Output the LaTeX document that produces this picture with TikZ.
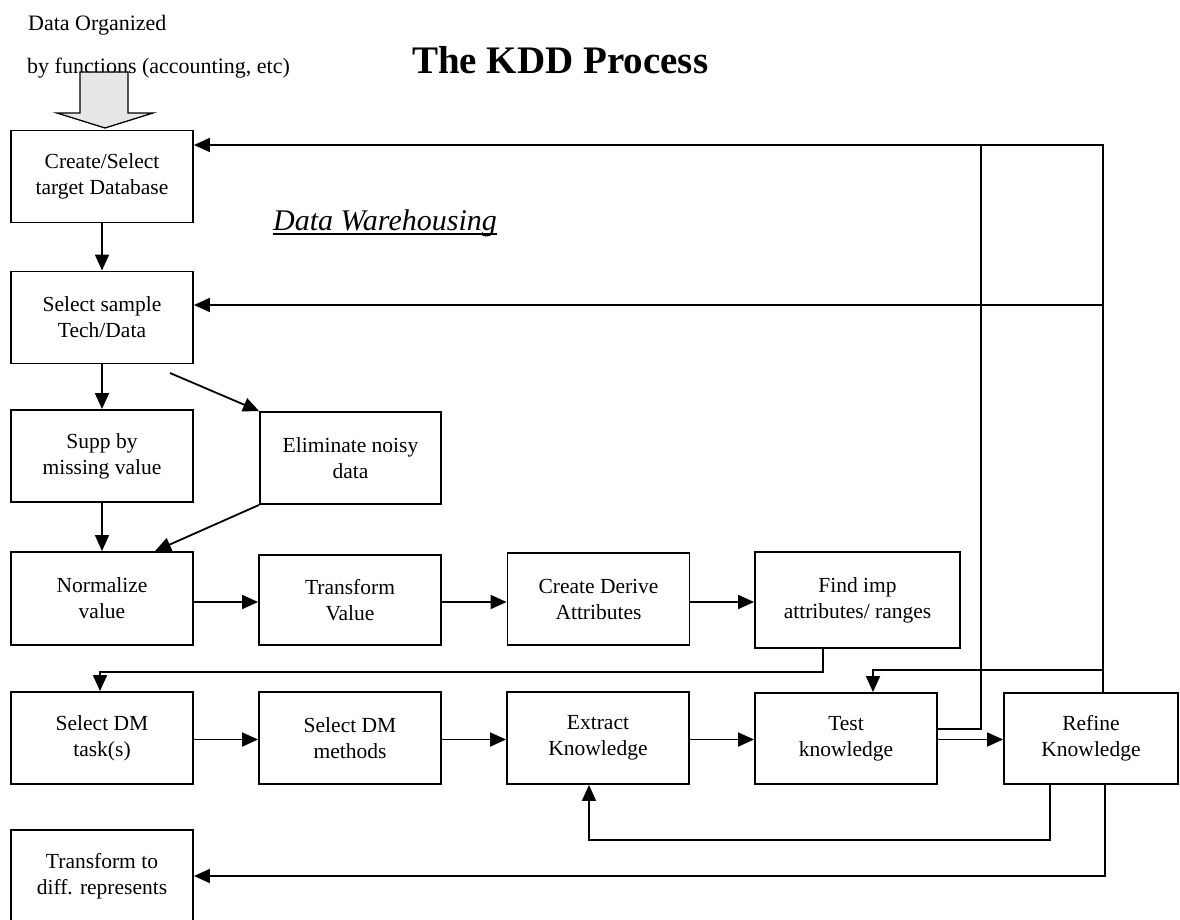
\documentclass[tikz,border=0pt]{standalone}
\usepackage{fontspec}
\setmainfont{Liberation Serif}
\usetikzlibrary{arrows.meta}
\begin{document}
\begin{tikzpicture}[x=1pt,y=-1pt,
  box/.style={draw, line width=1.9pt, align=center, inner sep=0pt,
    font=\fontsize{21.5}{26}\selectfont, minimum height=92pt, minimum width=182pt},
  arr/.style={line width=1.8pt, -{Triangle[length=16pt,width=14pt]}},
  link/.style={line width=1.8pt},
  label/.style={anchor=base west, inner sep=0pt, font=\fontsize{22}{22}\selectfont}]
\useasboundingbox (0,0) rectangle (1180,919);

% captions
\node[label] (org1) at (28,30) {Data Organized};
\node[label] (org2) at (27,73) {by functions (accounting, etc)};
\node[anchor=base west, inner sep=0pt, font=\bfseries\fontsize{39}{39}\selectfont] (title) at (412,73) {The KDD Process};
\node[anchor=base west, inner sep=0pt, font=\itshape\fontsize{30}{30}\selectfont] (dw) at (273,230) {Data Warehousing};
\draw[line width=1.6pt] ([yshift=-4pt]dw.base west) -- ([yshift=-4pt]dw.base east);

% incoming data arrow
\draw[line width=1.3pt, fill=gray!25, fill opacity=0.75]
  (80,72) -- (128,72) -- (128,113) -- (153,113) -- (105,128) -- (57,113) -- (80,113) -- cycle;

% process steps
\node[box] (create)  at (102,176.5) {Create/Select\\target Database};
\node[box] (sample)  at (102,317.5) {Select sample\\Tech/Data};
\node[box] (supp)    at (102,456)   {Supp by\\missing value};
\node[box, minimum width=181pt] (elim) at (350.5,458) {Eliminate noisy\\data};
\node[box, minimum height=93pt] (norm) at (102,598.5) {Normalize\\value};
\node[box, minimum height=90pt] (trval) at (350,600) {Transform\\Value};
\node[box, minimum height=92pt] (derive) at (598.5,599) {Create Derive\\Attributes};
\node[box, minimum width=205pt, minimum height=96pt] (findimp) at (857.5,600) {Find imp\\attributes/ ranges};
\node[box] (dmtask)  at (102,738)   {Select DM\\task(s)};
\node[box] (dmmeth)  at (350,738)   {Select DM\\methods};
\node[box] (extract) at (598,738)   {Extract\\Knowledge};
\node[box, minimum height=91pt] (test) at (846,738.5) {Test\\knowledge};
\node[box, minimum width=174pt, minimum height=91pt] (refine) at (1091,738.5) {Refine\\Knowledge};
\node[box] (transf)  at (102,876)   {Transform to\\diff. represents};

% main flow
\draw[arr] (create.south) -- (sample.north);
\draw[arr] (sample.south) -- (supp.north);
\coordinate (d0) at (170,373);
\draw[arr] (d0) -- (elim.north west);
\draw[arr] (supp.south) -- (norm.north);
\draw[arr] (elim.south west) -- ([xshift=53pt]norm.north);

\coordinate (ra) at (0,602);
\draw[arr] (norm.east |- ra) -- (trval.west |- ra);
\draw[arr] (trval.east |- ra) -- (derive.west |- ra);
\draw[arr] (derive.east |- ra) -- (findimp.west |- ra);
\draw[arr] ([xshift=-34.5pt]findimp.south) -- ++(0,23) -| ([xshift=-2pt]dmtask.north);

\coordinate (rb) at (0,739.5);
\draw[arr] (dmtask.east |- rb) -- (dmmeth.west |- rb);
\draw[arr] (dmmeth.east |- rb) -- (extract.west |- rb);
\draw[arr] (extract.east |- rb) -- (test.west |- rb);
\draw[arr] (test.east |- rb) -- (refine.west |- rb);

% feedback loops
\coordinate (tr) at (1103,145);
\coordinate (ts) at (1103,305);
\coordinate (tt) at (1103,670);
\draw[arr] ([xshift=12pt]refine.north) -- (tr) -- (create.east |- tr);
\draw[link] ([yshift=9.5pt]test.east) -| (981,145);
\draw[arr] (ts) -- (sample.east |- ts);
\draw[arr] (tt) -| ([xshift=27pt]test.north);
\draw[arr] ([xshift=-41pt]refine.south) -- ++(0,55) -| ([xshift=-9pt]extract.south);
\draw[arr] ([xshift=14pt]refine.south) |- (transf.east);
\end{tikzpicture}
\end{document}
